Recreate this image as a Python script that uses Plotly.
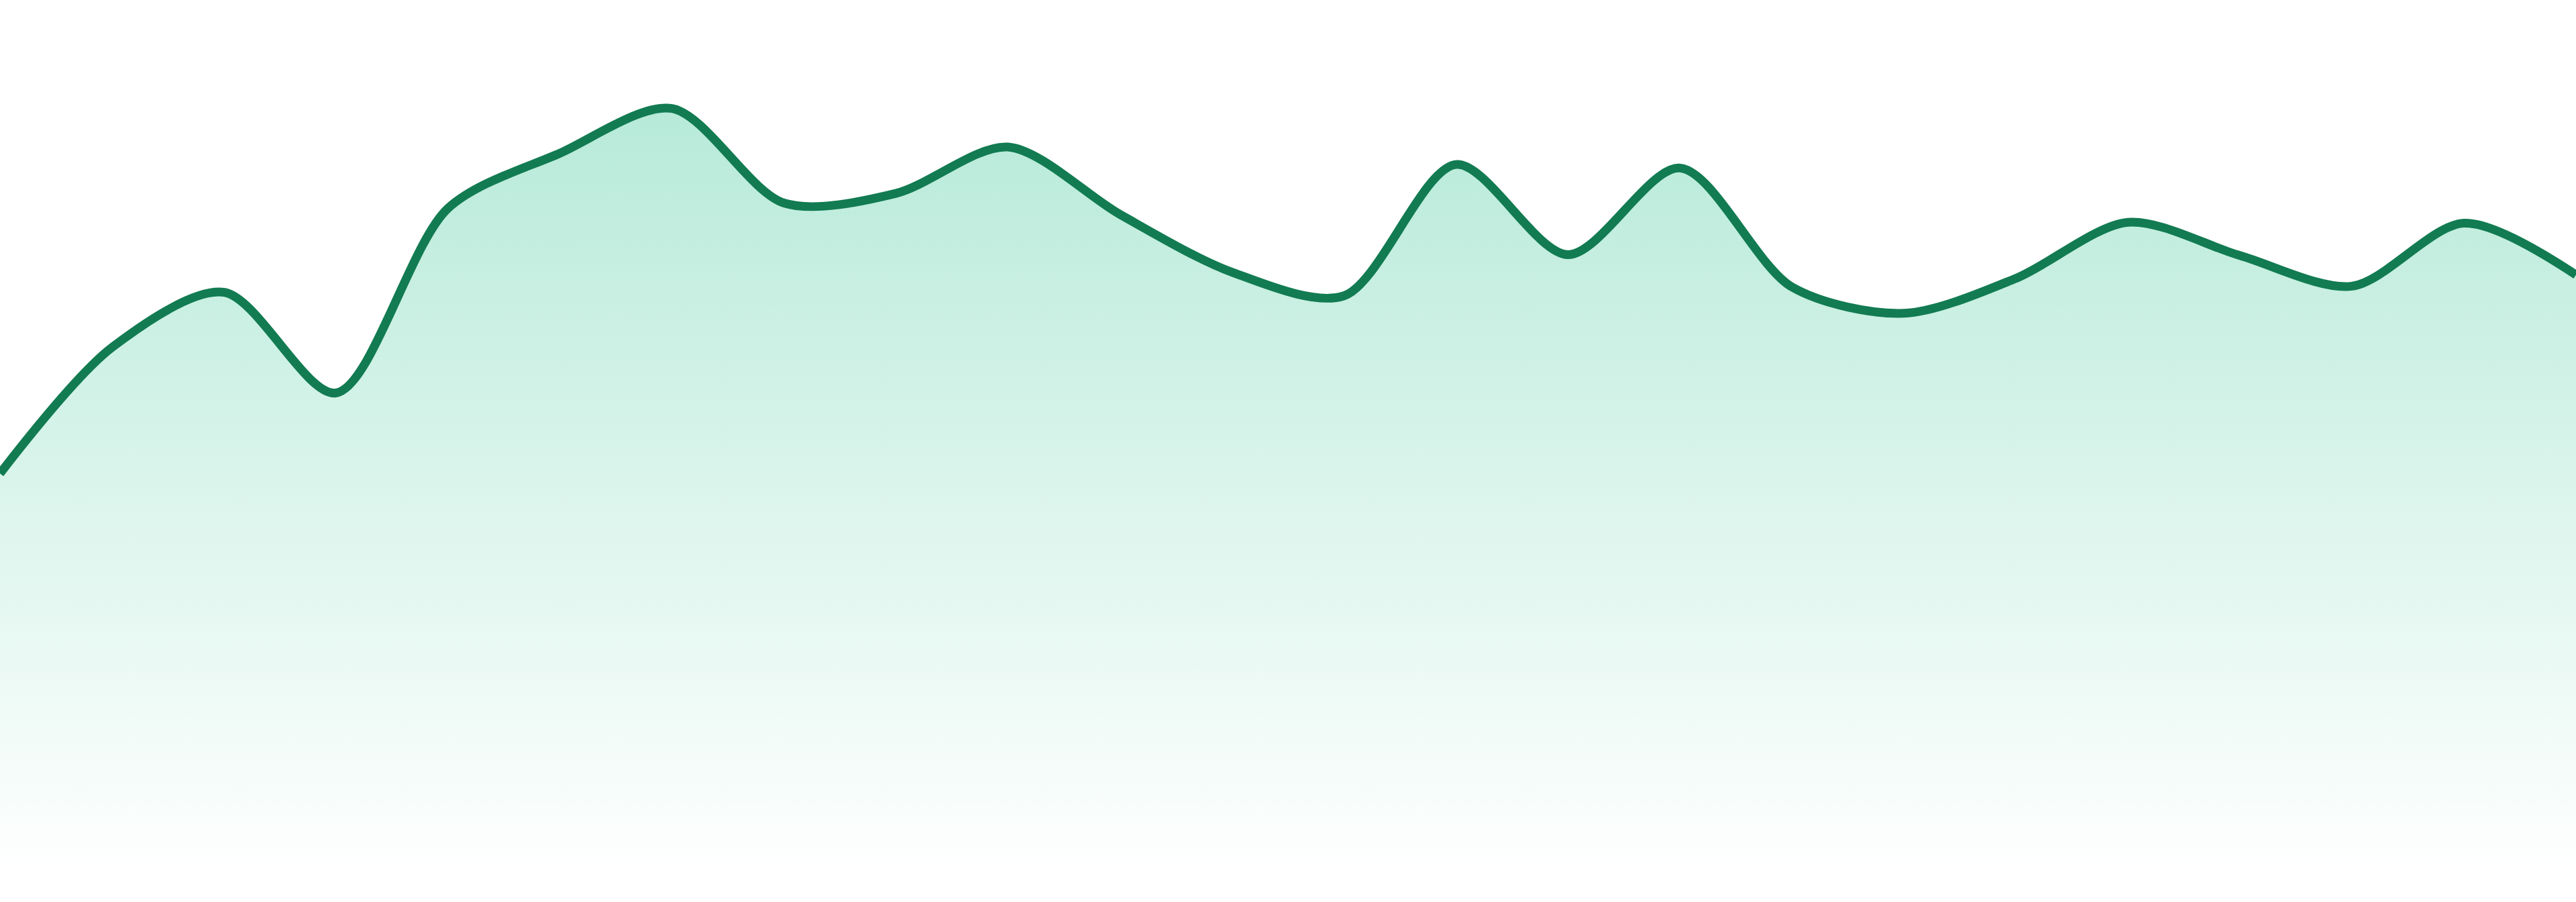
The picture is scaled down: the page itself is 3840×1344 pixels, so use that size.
import plotly.graph_objects as go

# Data
x_index = list(range(24))
values = [45.9, 60.3, 66.6, 55.1, 76.2, 82.5, 87.6, 76.8, 77.9, 83.2, 75.5, 68.9,
          66.2, 81.2, 70.9, 80.8, 67.2, 64.2, 68.2, 74.6, 70.8, 67.3, 74.5, 68.6]

line_color = "#127b52"

fig = go.Figure()
fig.add_trace(go.Scatter(
    x=x_index,
    y=values,
    mode="lines",
    line=dict(color=line_color, width=13, shape="spline", smoothing=0.85),
    fill="tozeroy",
    fillgradient=dict(
        type="vertical",
        start=0,
        stop=90,
        colorscale=[[0, "rgba(16,185,129,0.0)"], [1, "rgba(16,185,129,0.31)"]],
    ),
    hoverinfo="skip",
    showlegend=False,
))

fig.update_layout(
    width=3840,
    height=1344,
    margin=dict(l=0, r=0, t=0, b=40),
    paper_bgcolor="white",
    plot_bgcolor="white",
    xaxis=dict(range=[0, 23], visible=False, fixedrange=True),
    yaxis=dict(range=[0, 100], visible=False, fixedrange=True),
)

fig.write_html("out.html", config={"displayModeBar": False})

# remove the browser's default page margin so the chart sits flush in the window
with open("out.html", "r", encoding="utf-8") as f:
    html = f.read()
html = html.replace("<head>", "<head><style>html,body{margin:0;padding:0;overflow:hidden;}</style>", 1)
with open("out.html", "w", encoding="utf-8") as f:
    f.write(html)
